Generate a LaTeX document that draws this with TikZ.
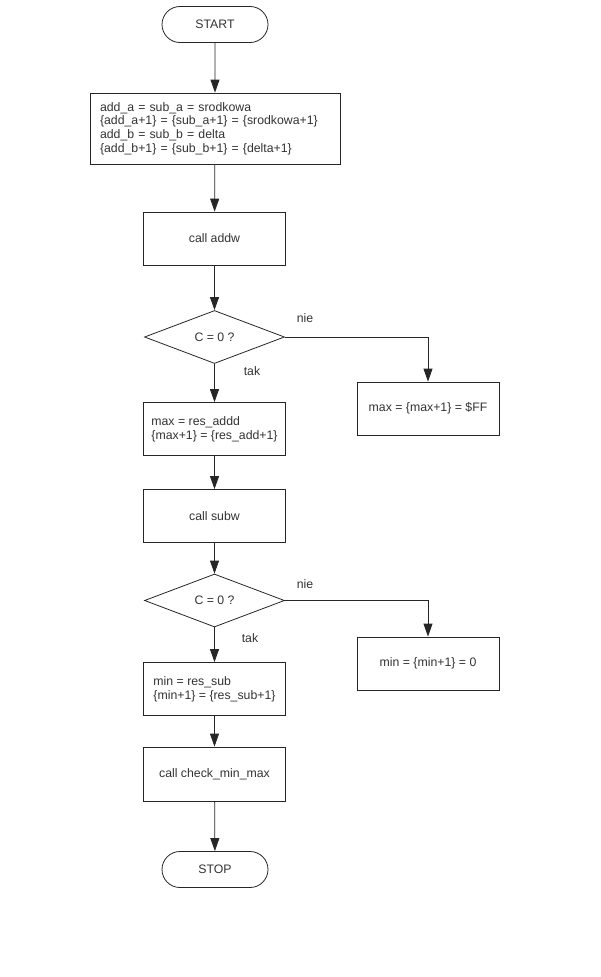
\documentclass[tikz,border=0pt]{standalone}
\usepackage{fontspec}
\setmainfont{Liberation Sans}
\usetikzlibrary{arrows.meta,shapes.geometric,shapes.misc}
\begin{document}
\begin{tikzpicture}[x=1pt,y=-1pt,
    every node/.style={font=\fontsize{12.3}{13.7}\selectfont, text=black!80},
    terminal/.style={draw, rounded rectangle, minimum width=106pt, minimum height=36pt, inner sep=0pt},
    box/.style={draw, rectangle, minimum width=142pt, minimum height=53pt, inner sep=0pt},
    leftbox/.style={draw, rectangle, align=left, minimum width=142pt, minimum height=53pt, inner sep=0pt},
    decision/.style={draw, diamond, minimum width=140pt, minimum height=53pt, inner sep=0pt},
    flow/.style={-{Triangle[length=13pt,width=9pt]}, line width=0.8pt, draw=black!85}]
    \useasboundingbox (0,0) rectangle (600,977);
    \tikzset{every path/.style={line width=0.8pt, draw=black!85}}
    \node[terminal] (start) at (215,24.5) {START};
    \node[leftbox, text width=230pt, minimum height=71pt, inner xsep=10pt] (init) at (215,128.5)
        {add\_a = sub\_a = srodkowa\\ \{add\_a+1\} = \{sub\_a+1\} = \{srodkowa+1\}\\ add\_b = sub\_b = delta\\ \{add\_b+1\} = \{sub\_b+1\} = \{delta+1\}};
    \node[box] (addw) at (214.5,238.5) {call addw};
    \node[decision] (dec1) at (214.5,337) {C = 0 ?};
    \node[box] (maxr) at (428,408.5) {max = \{max+1\} = \$FF};
    \node[leftbox] (maxl) at (214.5,429) {max = res\_addd\\ \{max+1\} = \{res\_add+1\}};
    \node[box] (subw) at (214.5,516) {call subw};
    \node[decision] (dec2) at (214.5,600.5) {C = 0 ?};
    \node[box] (minr) at (428,663.5) {min = \{min+1\} = 0};
    \node[leftbox] (minl) at (214.5,689) {min = res\_sub\\ \{min+1\} = \{res\_sub+1\}};
    \node[box, minimum height=54pt] (check) at (214.5,774) {call check\_min\_max};
    \node[terminal] (stop) at (215,869.5) {STOP};
    \node (nie1) at (305,318) {nie};
    \node (tak1) at (252,371) {tak};
    \node (nie2) at (305,584) {nie};
    \node (tak2) at (250,638) {tak};
    \draw[flow] (start) -- (init);
    \draw[flow] (init) -- (addw);
    \draw[flow] (addw) -- (dec1);
    \draw[flow] (dec1.east) -| (maxr.north);
    \draw[flow] (dec1) -- (maxl);
    \draw[flow] (maxl) -- (subw);
    \draw[flow] (subw) -- (dec2);
    \draw[flow] (dec2.east) -| (minr.north);
    \draw[flow] (dec2) -- (minl);
    \draw[flow] (minl) -- (check);
    \draw[flow] (check) -- (stop);
\end{tikzpicture}
\end{document}
